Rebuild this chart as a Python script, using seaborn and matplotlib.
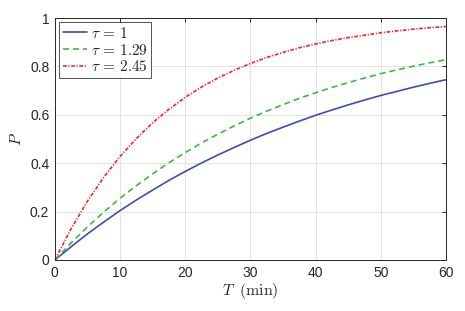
import numpy as np
import pandas as pd
import matplotlib
matplotlib.use("Agg")
import matplotlib.pyplot as plt
import seaborn as sns

# values (T in minutes)
T_min = [0, 2.5, 5, 7.5, 10, 12.5, 15, 17.5, 20, 22.5, 25, 27.5, 30,
         32.5, 35, 37.5, 40, 42.5, 45, 47.5, 50, 52.5, 55, 57.5, 60]
P_tau_1 = [0, 0.055, 0.108, 0.157, 0.204, 0.248, 0.289, 0.329, 0.366,
           0.401, 0.434, 0.465, 0.495, 0.523, 0.549, 0.574, 0.598, 0.620,
           0.641, 0.661, 0.680, 0.697, 0.714, 0.730, 0.745]
P_tau_129 = [0, 0.071, 0.137, 0.198, 0.255, 0.307, 0.356, 0.402, 0.444,
             0.484, 0.520, 0.554, 0.586, 0.615, 0.642, 0.668, 0.691, 0.713,
             0.733, 0.752, 0.770, 0.786, 0.801, 0.815, 0.828]
P_tau_245 = [0, 0.130, 0.243, 0.342, 0.428, 0.502, 0.567, 0.623, 0.672,
             0.715, 0.752, 0.784, 0.812, 0.837, 0.858, 0.877, 0.893, 0.907,
             0.919, 0.929, 0.939, 0.947, 0.954, 0.960, 0.965]
labels = [r"$\tau\,=\,1$", r"$\tau\,=\,1.29$", r"$\tau\,=\,2.45$"]

sns.set_theme(style="whitegrid")
plt.rcParams["font.family"] = ["Liberation Sans", "DejaVu Sans"]
plt.rcParams["mathtext.fontset"] = "cm"

fig = plt.figure(figsize=(4.65, 3.11), dpi=100)
ax = fig.add_axes([0.118, 0.164, 0.841, 0.778])

series = [P_tau_1, P_tau_129, P_tau_245]
colors = ["#3f4db0", "#3db83d", "#ff1f1f"]
dashes = [(None, None), (3.6, 2.4), (2.2, 1.0, 0.7, 1.0)]
for vals, lab, col, ds in zip(series, labels, colors, dashes):
    df = pd.DataFrame({"T": T_min, "P": vals})
    sns.lineplot(data=df, x="T", y="P", ax=ax, color=col,
                 linewidth=1.2, label=lab)
    if ds[0] is not None:
        ax.lines[-1].set_dashes(ds)

ax.set_xlim(0, 60)
ax.set_ylim(0, 1)
ax.set_xticks([0, 10, 20, 30, 40, 50, 60])
ax.set_yticks([0, 0.2, 0.4, 0.6, 0.8, 1])
ax.set_yticklabels(["0", "0.2", "0.4", "0.6", "0.8", "1"])
ax.set_xlabel(r"$T\;\;\mathrm{(min)}$", fontsize=11.5, labelpad=1)
ax.set_ylabel(r"$P$", fontsize=11.5, labelpad=4)

ax.set_facecolor("white")
ax.grid(True, color="#e3e3e3", linewidth=0.7)
for sp in ax.spines.values():
    sp.set_visible(True)
    sp.set_color("#262626")
    sp.set_linewidth(0.7)
ax.tick_params(direction="in", length=3, width=0.7, color="#262626",
               labelsize=10, labelcolor="#262626", top=True, right=True,
               pad=4)

leg = ax.legend(loc="upper left", fontsize=11, frameon=True, fancybox=False,
                handlelength=1.6, handletextpad=0.25, borderpad=0.25,
                labelspacing=0.12, borderaxespad=0.25)
leg.get_frame().set_edgecolor("#262626")
leg.get_frame().set_linewidth(0.7)

fig.savefig("out.png", dpi=100)
